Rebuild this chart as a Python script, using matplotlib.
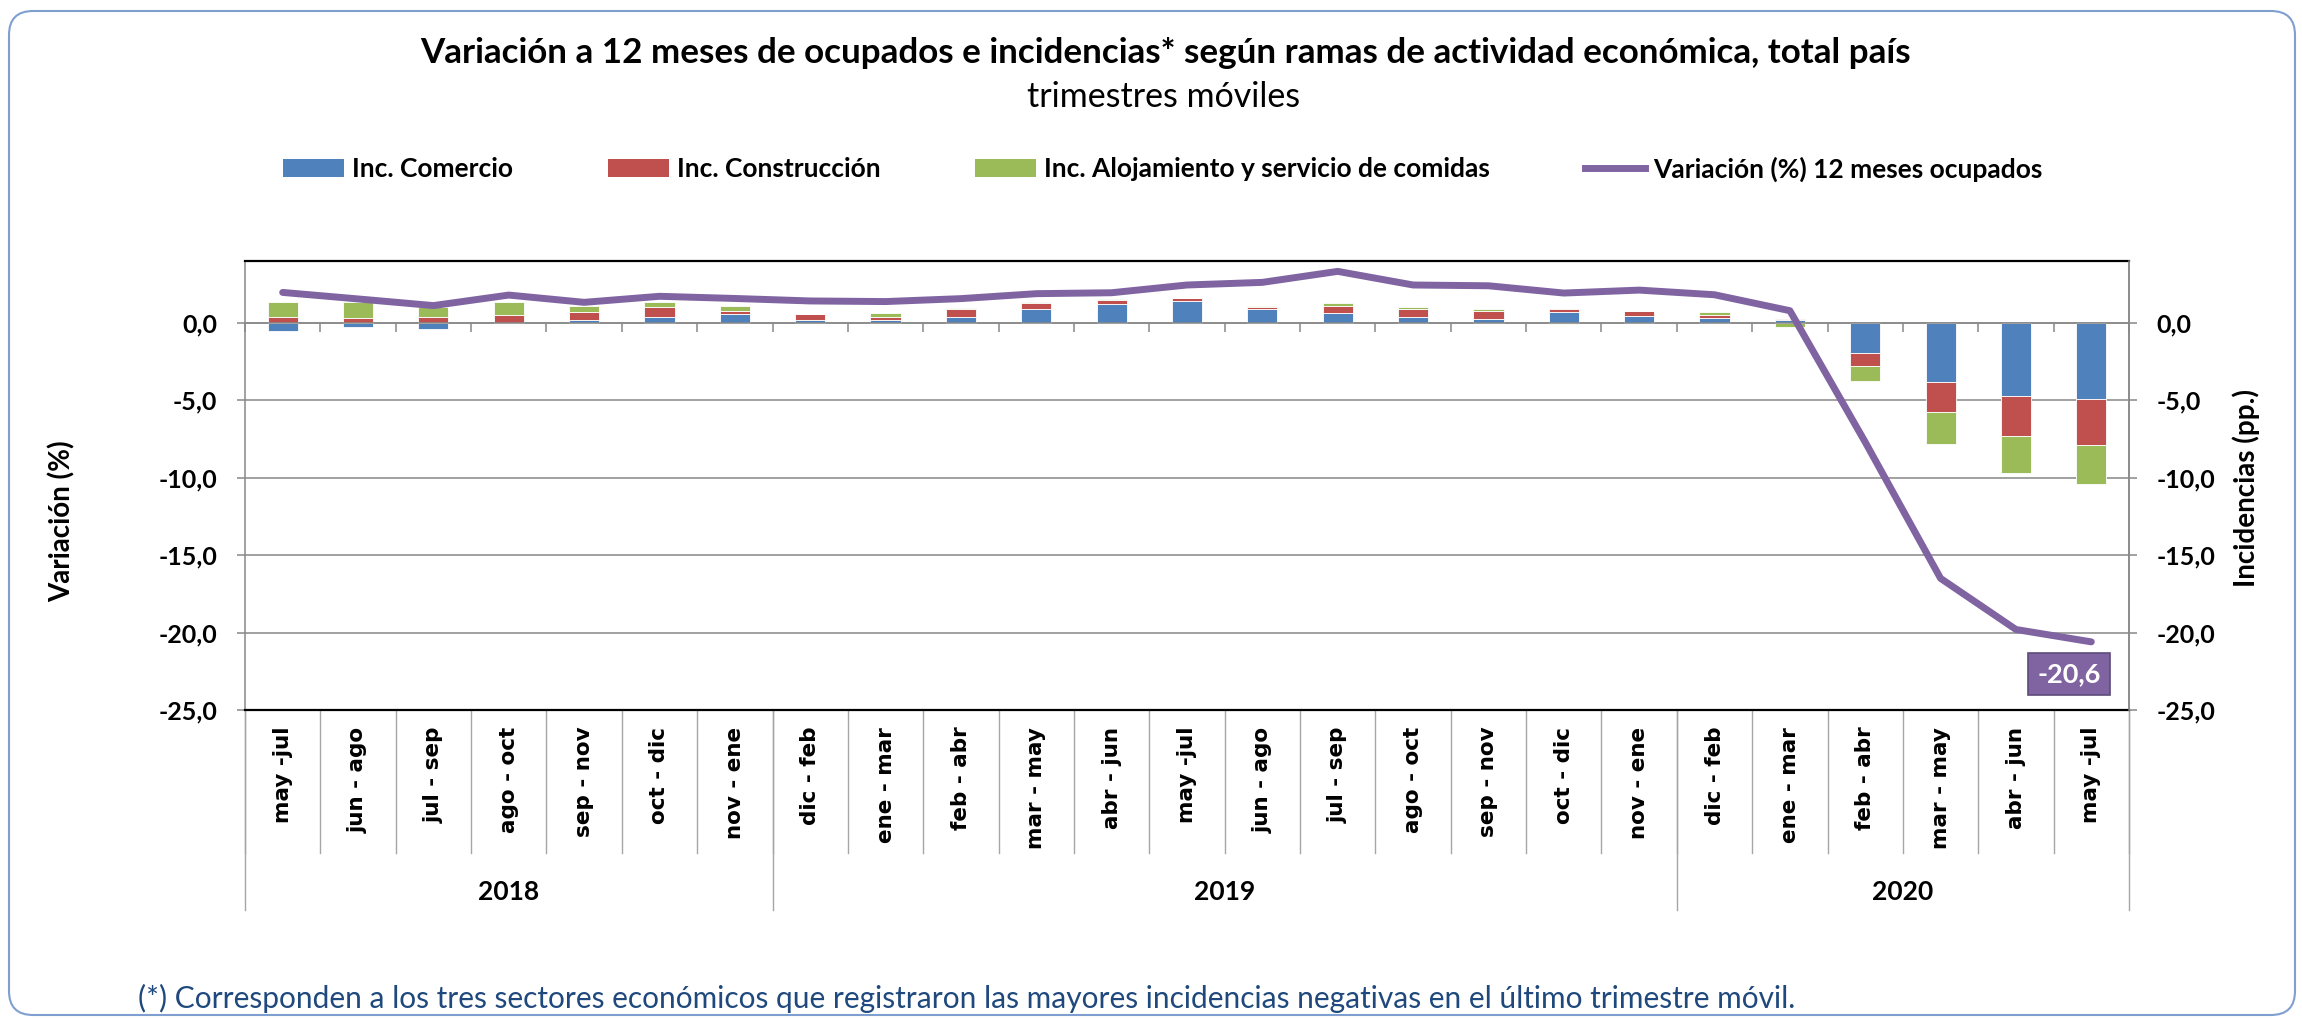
import numpy as np
import matplotlib
matplotlib.use('Agg')
import matplotlib.pyplot as plt
import matplotlib.transforms as mtransforms
from matplotlib.patches import FancyBboxPatch, Patch
from matplotlib.lines import Line2D
from matplotlib.ticker import FuncFormatter

periodos = ['may -jul', 'jun - ago', 'jul - sep', 'ago - oct', 'sep - nov', 'oct - dic', 'nov - ene',
            'dic - feb', 'ene - mar', 'feb - abr', 'mar - may', 'abr - jun', 'may -jul', 'jun - ago',
            'jul - sep', 'ago - oct', 'sep - nov', 'oct - dic', 'nov - ene',
            'dic - feb', 'ene - mar', 'feb - abr', 'mar - may', 'abr - jun', 'may -jul']
anios = ['2018', '2019', '2020']
n_por_anio = [7, 12, 6]

comercio = [-0.54, -0.26, -0.39, 0.02, 0.17, 0.36, 0.58,
            0.21, 0.19, 0.41, 0.90, 1.22, 1.40, 0.88, 0.64, 0.36, 0.28, 0.69, 0.43,
            0.32, 0.19, -1.93, -3.80, -4.72, -4.90]
construccion = [0.36, 0.32, 0.36, 0.49, 0.52, 0.67, 0.17,
                0.36, 0.21, 0.47, 0.36, 0.24, 0.19, 0.17, 0.47, 0.56, 0.47, 0.19, 0.32,
                0.17, 0.06, -0.88, -1.96, -2.60, -2.98]
alojamiento = [1.01, 1.05, 0.64, 0.84, 0.43, 0.34, 0.34,
               0.03, 0.26, 0.06, 0.10, 0.06, 0.04, 0.06, 0.17, 0.13, 0.13, -0.09, 0.02,
               0.21, -0.24, -0.95, -2.06, -2.38, -2.51]
variacion = [1.97, 1.55, 1.12, 1.80, 1.33, 1.72, 1.58,
             1.42, 1.38, 1.57, 1.89, 1.95, 2.45, 2.62, 3.33, 2.45, 2.40, 1.93, 2.12,
             1.82, 0.79, -7.7, -16.5, -19.8, -20.6]

nombres = ['Inc. Comercio', 'Inc. Construcción', 'Inc. Alojamiento y servicio de comidas']
colores = ['#4F81BD', '#C0504D', '#9BBB59']
color_linea = '#8064A2'
nombre_linea = 'Variación (%) 12 meses ocupados'

FONT = ['Lato', 'DejaVu Sans']
plt.rcParams['font.family'] = FONT

W, H = 2302, 1019
fig = plt.figure(figsize=(W / 100, H / 100), dpi=100)

# marco redondeado
marco = FancyBboxPatch((9, 4), 2286, 1004, boxstyle='round,pad=0,rounding_size=24',
                       transform=None, facecolor='none', edgecolor='#7F9FD0', lw=1.5)
fig.patches.append(marco)

ax = fig.add_axes([245 / W, 1 - 710 / H, (2129 - 245) / W, (710 - 261) / H])
x = np.arange(len(periodos))

pos = np.zeros(len(x))
neg = np.zeros(len(x))
for vals, col, lab in zip([comercio, construccion, alojamiento], colores, nombres):
    v = np.array(vals)
    base = np.where(v >= 0, pos, neg)
    ax.bar(x, v, 0.4, bottom=base, color=col, edgecolor='white', linewidth=0.6,
           label=lab, zorder=2)
    pos = pos + np.where(v >= 0, v, 0)
    neg = neg + np.where(v < 0, v, 0)

ax.plot(x, variacion, color=color_linea, lw=5, solid_capstyle='round',
        solid_joinstyle='round', zorder=4)

ax.annotate('-20,6', xy=(x[-1], variacion[-1]), xytext=(-16, -23), textcoords='offset points',
            ha='center', va='center', color='white', fontsize=19.5, fontweight='bold',
            bbox=dict(boxstyle='square,pad=0.33', fc=color_linea, ec='#5E4B7C', lw=1.2), zorder=5)

ax.set_xlim(-0.5, len(x) - 0.5)
ax.set_ylim(-25, 4)
yt = [0, -5, -10, -15, -20, -25]
fmt = FuncFormatter(lambda v, p: ('%.1f' % v).replace('.', ','))
ax.set_yticks(yt)
ax.yaxis.set_major_formatter(fmt)
ax.grid(axis='y', color='#888888', lw=1.1, zorder=0)
ax.set_axisbelow(True)
ax.tick_params(axis='y', direction='out', length=6, width=1.1, color='#888888', pad=14,
               labelsize=18)
for t in ax.get_yticklabels():
    t.set_fontweight('bold')

# eje de categorias en 0
ax.spines['bottom'].set_position(('data', 0))
ax.spines['bottom'].set_color('#888888')
ax.spines['bottom'].set_linewidth(1.1)
ax.set_xticks(np.arange(len(x) + 1) - 0.5)
ax.set_xticklabels([])
ax.tick_params(axis='x', direction='out', length=6.5, width=1.1, color='#888888')
ax.spines['top'].set_color('black')
ax.spines['top'].set_linewidth(1.6)
for s in ['left', 'right']:
    ax.spines[s].set_color('#888888')
    ax.spines[s].set_linewidth(1.1)
ax.axhline(-25, color='black', lw=1.6, clip_on=False, zorder=3)

ax2 = ax.twinx()
ax2.set_ylim(ax.get_ylim())
ax2.set_yticks(yt)
ax2.yaxis.set_major_formatter(fmt)
ax2.tick_params(axis='y', direction='out', length=6, width=1.1, color='#888888', pad=14,
                labelsize=18)
for t in ax2.get_yticklabels():
    t.set_fontweight('bold')
for s in ['left', 'top', 'bottom']:
    ax2.spines[s].set_visible(False)
ax2.spines['right'].set_color('#888888')
ax2.spines['right'].set_linewidth(1.1)

# etiquetas de categorias y anios
trans = mtransforms.blended_transform_factory(ax.transData, ax.transAxes)
for i, p in enumerate(periodos):
    ax.annotate(p, xy=(i, 0), xycoords=trans, xytext=(0, -12), textcoords='offset points',
                rotation=90, ha='center', va='top', fontsize=15.5, fontweight='bold',
                family='DejaVu Sans')
for b in np.arange(len(x) + 1) - 0.5:
    ax.plot([b, b], [0, -0.318], transform=trans, color='#A6A6A6', lw=1, clip_on=False)
bordes = np.concatenate([[0], np.cumsum(n_por_anio)]) - 0.5
for b in bordes:
    ax.plot([b, b], [0, -0.445], transform=trans, color='#A6A6A6', lw=1, clip_on=False)
for k, a in enumerate(anios):
    ax.text((bordes[k] + bordes[k + 1]) / 2, -0.405, a, transform=trans, ha='center',
            va='center', fontsize=19, fontweight='bold')

# titulos
fig.text(1166 / W, 1 - 53 / H, 'Variación a 12 meses de ocupados e incidencias* según ramas de actividad económica, total país',
         ha='center', va='center', fontsize=25.2, fontweight='bold')
fig.text(1164 / W, 1 - 97 / H, 'trimestres móviles', ha='center', va='center', fontsize=24.5)

fig.text(62 / W, 1 - 521 / H, 'Variación (%)', rotation=90, ha='center', va='center',
         fontsize=20, fontweight='bold')
fig.text(2246 / W, 1 - 488 / H, 'Incidencias (pp.)', rotation=90, ha='center', va='center',
         fontsize=20, fontweight='bold')

handles = [Patch(facecolor=c, edgecolor='none') for c in colores]
handles.append(Line2D([], [], color=color_linea, lw=5))
leg = fig.legend(handles, nombres + [nombre_linea], loc='center', ncol=4,
                 bbox_to_anchor=(1163 / W, 1 - 169 / H), frameon=False,
                 prop={'size': 19, 'weight': 'bold'}, handlelength=2.3, handleheight=0.65,
                 handletextpad=0.3, columnspacing=3.6)

fig.text(138 / W, 1 - 998 / H,
         '(*) Corresponden a los tres sectores económicos que registraron las mayores incidencias negativas en el último trimestre móvil.',
         ha='left', va='center', fontsize=21.5, color='#1F497D')

fig.savefig('out.png', dpi=100)
